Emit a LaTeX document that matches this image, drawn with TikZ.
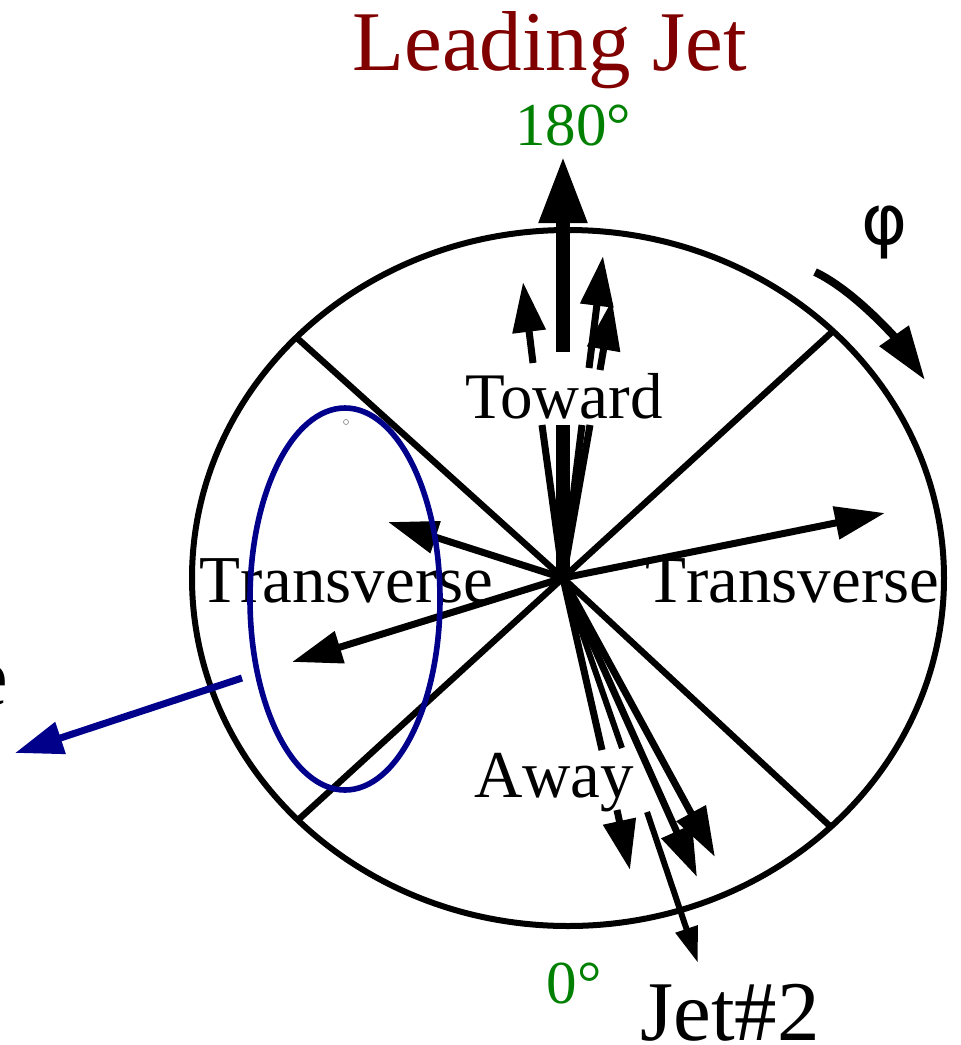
\documentclass[tikz,border=0pt]{standalone}
\usepackage{fontspec}
\setmainfont{Liberation Serif}
\newfontfamily\phifont{DejaVu Sans}
\newfontfamily\loosefont[Kerning=Off]{Liberation Serif}
\usetikzlibrary{arrows.meta}
\definecolor{jetred}{RGB}{128,0,0}
\definecolor{anglegreen}{RGB}{0,128,0}
\definecolor{trigblue}{RGB}{0,0,139}

\begin{document}
\begin{tikzpicture}[
  x=0.5pt,
  y=-0.5pt,
  every node/.style={inner sep=0pt},
  frame/.style={black, line width=3pt},
  divider/.style={black, line width=3.2pt},
  trkline/.style={black, line width=3.5pt},
  trk/.style={trkline, -{Triangle[length=25pt,width=16pt]}},
  lead/.style={black, line width=7pt, -{Triangle[length=33.5pt,width=22.5pt]}},
  region/.style={font=\fontsize{32.5pt}{36pt}\selectfont},
  wideregion/.style={font=\loosefont\fontsize{33.5pt}{36pt}\selectfont},
  angle/.style={font=\fontsize{30.5pt}{34pt}\selectfont, text=anglegreen},
  jetlabel/.style={font=\fontsize{42.5pt}{48pt}\selectfont},
]
  \useasboundingbox (0,0) rectangle (961,1045);

  \coordinate (O) at (563,578);

  % event plane and the four regions
  \draw[frame] (568,578) ellipse [x radius=188pt, y radius=174pt];
  \draw[divider] (O) -- (297,338);
  \draw[divider] (O) -- (832,332);
  \draw[divider] (O) -- (298,820);
  \draw[divider] (O) -- (832,828);

  % toward side (broken behind the label)
  \draw[black, line width=7pt] (O) -- (563,425);
  \draw[lead] (563,352) -- (563,156);
  \draw[trkline] (O) -- (542,425);
  \draw[trk] (533,363) -- (523,282);
  \draw[trkline] (O) -- (582,425);
  \draw[trk] (589,368) -- (603,256);
  \draw[trkline] (O) -- (590,425);
  \draw[trk] (600,370) -- (612,300);

  % transverse tracks
  \draw[trk] (O) -- (388,522);
  \draw[trk] (O) -- (292,662);
  \draw[trk] (O) -- (885,513);

  % away side
  \draw[trkline] (O) -- (602,750);
  \draw[trk] (617,810) -- (630,870);
  \draw[black, line width=3pt] (O) -- (622,748);
  \draw[black, line width=3pt, -{Triangle[length=18pt,width=11pt]}] (647,812) -- (698,963);
  \draw[trk] (O) -- (697,877);
  \draw[trk] (O) -- (715,857);

  % region labels
  \node[region, anchor=base] (toward) at (564,418) {Toward};
  \node[wideregion, anchor=base] (away) at (554,797) {Away};
  \node[wideregion, anchor=base west] (transL) at (199,602) {Transverse};
  \node[wideregion, anchor=base west] (transR) at (645,602) {Transverse};

  % trigger side
  \draw[trigblue, line width=2.8pt] (345,599) ellipse [x radius=47.5pt, y radius=95.5pt];
  \draw[gray, line width=0.3pt] (346,422) circle [radius=1.25pt];
  \draw[trigblue, line width=3.5pt, -{Triangle[length=24pt,width=16pt]}] (242,678) -- (15,753);
  \node[jetlabel, anchor=base east] (trig) at (9,705) {e};

  % phi direction
  \draw[black, line width=4pt, -{Triangle[length=27pt,width=17pt]}]
    (815,272) .. controls (855,291) and (897,340) .. (925,380);
  \node[font=\phifont\fontsize{35pt}{38pt}\selectfont] (phi) at (885,232) {φ};

  % jets and angles
  \node[jetlabel, text=jetred, anchor=base] (leadjet) at (549.5,70) {Leading Jet};
  \node[angle, anchor=base] (deg180) at (573,145) {180°};
  \node[angle, anchor=base] (deg0) at (574,1003) {0°};
  \node[jetlabel, anchor=base west] (jet2) at (640,1040) {Jet\#2};
\end{tikzpicture}
\end{document}
